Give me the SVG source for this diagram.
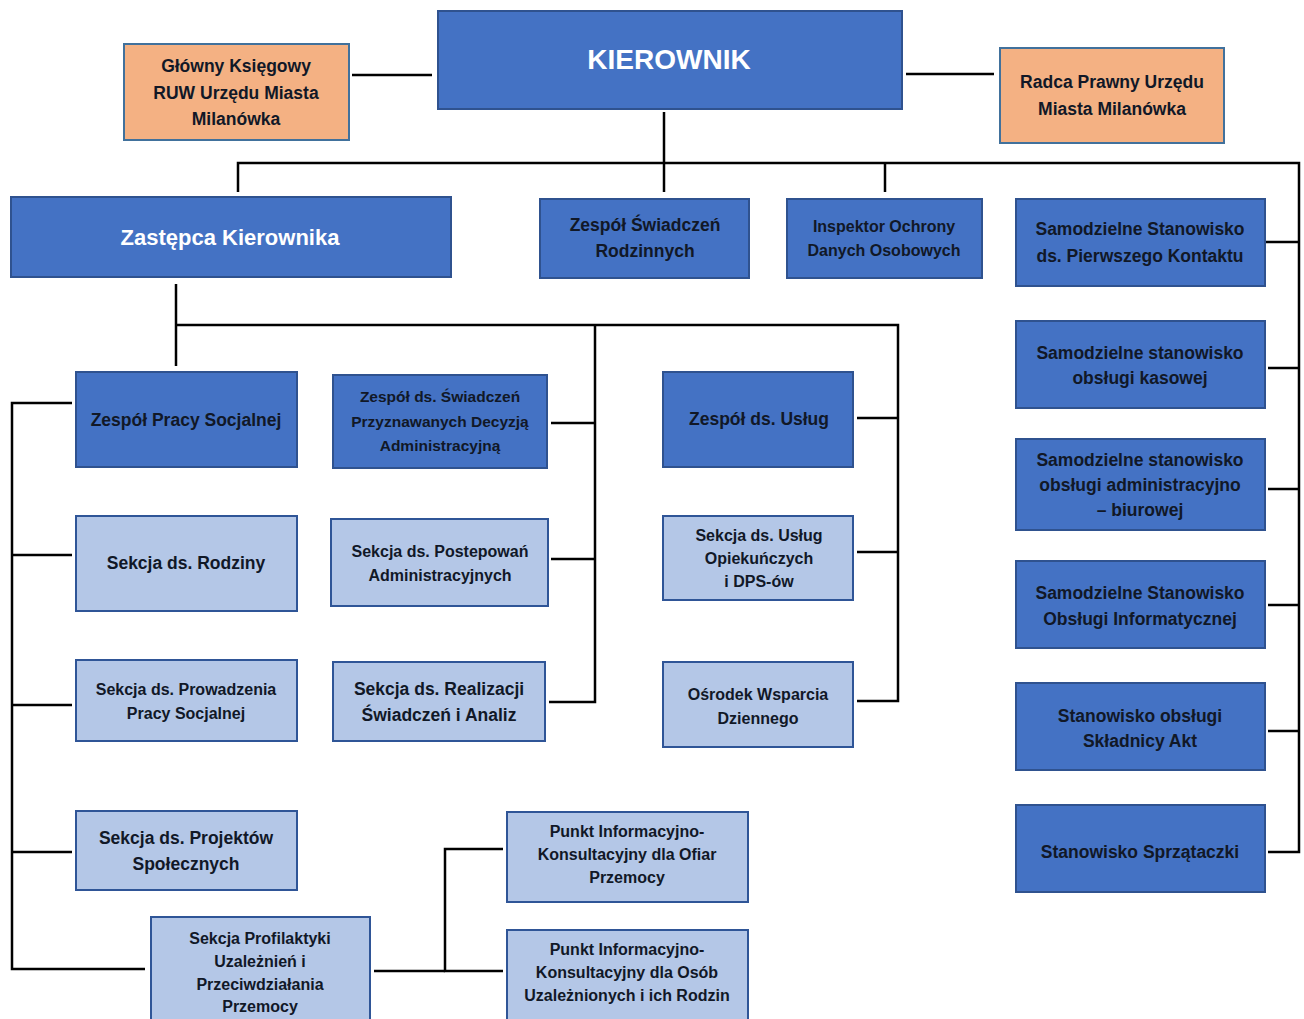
<svg xmlns="http://www.w3.org/2000/svg" width="1304" height="1019" viewBox="0 0 1304 1019">
<style>
.dark{fill:#4472C4;stroke:#2F528F;stroke-width:2}
.light{fill:#B4C7E7;stroke:#2F5597;stroke-width:2}
.orange{fill:#F4B183;stroke:#41719C;stroke-width:2}
text{font-family:"Liberation Sans",Arial,sans-serif;font-weight:bold;text-anchor:middle;fill:#111827}
.w{fill:#FFFFFF}
.b{font-size:17.5px}
.s{font-size:16px}
.conn line,.conn polyline{stroke:#000;stroke-width:2.5;fill:none}
</style>
<rect width="1304" height="1019" fill="#FFFFFF"/>
<g class="conn" id="connectors">
<line x1="352" y1="75" x2="432" y2="75"/>
<line x1="906" y1="74" x2="994" y2="74"/>
<line x1="664" y1="112" x2="664" y2="192"/>
<polyline points="238,192 238,163 1299,163 1299,852 1268,852"/>
<line x1="885" y1="163" x2="885" y2="192"/>
<line x1="1266" y1="242" x2="1299" y2="242"/>
<line x1="1268" y1="368" x2="1299" y2="368"/>
<line x1="1268" y1="489" x2="1299" y2="489"/>
<line x1="1268" y1="605" x2="1299" y2="605"/>
<line x1="1268" y1="731" x2="1299" y2="731"/>
<line x1="176" y1="284" x2="176" y2="366"/>
<polyline points="176,325 898,325 898,701 857,701"/>
<polyline points="595,325 595,702 549,702"/>
<line x1="551" y1="423" x2="595" y2="423"/>
<line x1="551" y1="559" x2="595" y2="559"/>
<line x1="857" y1="418" x2="898" y2="418"/>
<line x1="857" y1="552" x2="898" y2="552"/>
<polyline points="72,403 12,403 12,969 145,969"/>
<line x1="12" y1="555" x2="72" y2="555"/>
<line x1="12" y1="705" x2="72" y2="705"/>
<line x1="12" y1="852" x2="72" y2="852"/>
<line x1="374" y1="971" x2="445" y2="971"/>
<polyline points="503,849 445,849 445,971 503,971"/>
</g>
<g id="kierownik"><rect class="dark" x="438" y="11" width="464" height="98"/><text class="w" x="669" y="69" style="font-size:28px">KIEROWNIK</text></g>
<g id="glowny-ksiegowy"><rect class="orange" x="124" y="44" width="225" height="96"/><text class="b" x="236" y="72">Główny Księgowy</text><text class="b" x="236" y="99">RUW Urzędu Miasta</text><text class="b" x="236" y="125">Milanówka</text></g>
<g id="radca-prawny"><rect class="orange" x="1000" y="48" width="224" height="95"/><text class="b" x="1112" y="88">Radca Prawny Urzędu</text><text class="b" x="1112" y="115">Miasta Milanówka</text></g>
<g id="zastepca"><rect class="dark" x="11" y="197" width="440" height="80"/><text class="w" x="230" y="245" style="font-size:22px">Zastępca Kierownika</text></g>
<g id="zespol-swiadczen-rodzinnych"><rect class="dark" x="540" y="199" width="209" height="79"/><text class="b" x="645" y="231">Zespół Świadczeń</text><text class="b" x="645" y="257">Rodzinnych</text></g>
<g id="inspektor"><rect class="dark" x="787" y="199" width="195" height="79"/><text class="s" x="884" y="232">Inspektor Ochrony</text><text class="s" x="884" y="256">Danych Osobowych</text></g>
<g id="pierwszy-kontakt"><rect class="dark" x="1016" y="199" width="249" height="87"/><text class="b" x="1140" y="235">Samodzielne Stanowisko</text><text class="b" x="1140" y="262">ds. Pierwszego Kontaktu</text></g>
<g id="kasa"><rect class="dark" x="1016" y="321" width="249" height="87"/><text class="b" x="1140" y="359">Samodzielne stanowisko</text><text class="b" x="1140" y="384">obsługi kasowej</text></g>
<g id="administracyjno-biurowe"><rect class="dark" x="1016" y="439" width="249" height="91"/><text class="b" x="1140" y="466">Samodzielne stanowisko</text><text class="b" x="1140" y="491">obsługi administracyjno</text><text class="b" x="1140" y="516">– biurowej</text></g>
<g id="informatyka"><rect class="dark" x="1016" y="561" width="249" height="87"/><text class="b" x="1140" y="599">Samodzielne Stanowisko</text><text class="b" x="1140" y="625">Obsługi Informatycznej</text></g>
<g id="skladnica"><rect class="dark" x="1016" y="683" width="249" height="87"/><text class="b" x="1140" y="722">Stanowisko obsługi</text><text class="b" x="1140" y="747">Składnicy Akt</text></g>
<g id="sprzataczka"><rect class="dark" x="1016" y="805" width="249" height="87"/><text class="b" x="1140" y="858">Stanowisko Sprzątaczki</text></g>
<g id="zespol-pracy-socjalnej"><rect class="dark" x="76" y="372" width="221" height="95"/><text class="b" x="186" y="426">Zespół Pracy Socjalnej</text></g>
<g id="sekcja-rodziny"><rect class="light" x="76" y="516" width="221" height="95"/><text class="b" x="186" y="569">Sekcja ds. Rodziny</text></g>
<g id="sekcja-prowadzenia"><rect class="light" x="76" y="660" width="221" height="81"/><text class="s" x="186" y="695">Sekcja ds. Prowadzenia</text><text class="s" x="186" y="719">Pracy Socjalnej</text></g>
<g id="sekcja-projektow"><rect class="light" x="76" y="811" width="221" height="79"/><text class="b" x="186" y="844">Sekcja ds. Projektów</text><text class="b" x="186" y="870">Społecznych</text></g>
<g id="sekcja-profilaktyki"><rect class="light" x="151" y="917" width="219" height="110"/><text class="s" x="260" y="944">Sekcja Profilaktyki</text><text class="s" x="260" y="967">Uzależnień i</text><text class="s" x="260" y="990">Przeciwdziałania</text><text class="s" x="260" y="1012">Przemocy</text></g>
<g id="zespol-decyzja"><rect class="dark" x="333" y="375" width="214" height="93"/><text class="s" x="440" y="402" style="font-size:15.5px">Zespół ds. Świadczeń</text><text class="s" x="440" y="427" style="font-size:15.5px">Przyznawanych Decyzją</text><text class="s" x="440" y="451" style="font-size:15.5px">Administracyjną</text></g>
<g id="sekcja-postepowan"><rect class="light" x="331" y="519" width="217" height="87"/><text class="s" x="440" y="557">Sekcja ds. Postepowań</text><text class="s" x="440" y="581">Administracyjnych</text></g>
<g id="sekcja-realizacji"><rect class="light" x="333" y="662" width="212" height="79"/><text class="b" x="439" y="695">Sekcja ds. Realizacji</text><text class="b" x="439" y="721">Świadczeń i Analiz</text></g>
<g id="zespol-uslug"><rect class="dark" x="663" y="372" width="190" height="95"/><text class="b" x="759" y="425">Zespół ds. Usług</text></g>
<g id="sekcja-uslug-opiekunczych"><rect class="light" x="663" y="516" width="190" height="84"/><text class="s" x="759" y="541">Sekcja ds. Usług</text><text class="s" x="759" y="564">Opiekuńczych</text><text class="s" x="759" y="587">i DPS-ów</text></g>
<g id="osrodek-wsparcia"><rect class="light" x="663" y="662" width="190" height="85"/><text class="s" x="758" y="700">Ośrodek Wsparcia</text><text class="s" x="758" y="724">Dziennego</text></g>
<g id="punkt-ofiary"><rect class="light" x="507" y="812" width="241" height="90"/><text class="s" x="627" y="837">Punkt Informacyjno-</text><text class="s" x="627" y="860">Konsultacyjny dla Ofiar</text><text class="s" x="627" y="883">Przemocy</text></g>
<g id="punkt-uzaleznieni"><rect class="light" x="507" y="930" width="241" height="97"/><text class="s" x="627" y="955">Punkt Informacyjno-</text><text class="s" x="627" y="978">Konsultacyjny dla Osób</text><text class="s" x="627" y="1001">Uzależnionych i ich Rodzin</text></g>
</svg>
